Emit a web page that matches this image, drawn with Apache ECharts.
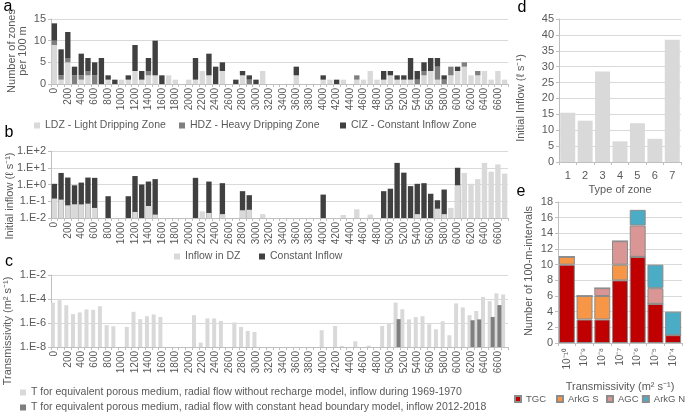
<!DOCTYPE html>
<html>
<head>
<meta charset="utf-8">
<script src="https://cdn.jsdelivr.net/npm/echarts@6/dist/echarts.min.js"></script>
<style>
  html, body { margin: 0; padding: 0; background: #fff; }
  #chart { width: 685px; height: 416px; }
</style>
</head>
<body>
<div id="chart"></div>
<script>
// position along the tunnel (m), one bar per 100 m
const positions = ['0','100','200','300','400','500','600','700','800','900',
  '1000','1100','1200','1300','1400','1500','1600','1700','1800','1900',
  '2000','2100','2200','2300','2400','2500','2600','2700','2800','2900',
  '3000','3100','3200','3300','3400','3500','3600','3700','3800','3900',
  '4000','4100','4200','4300','4400','4500','4600','4700','4800','4900',
  '5000','5100','5200','5300','5400','5500','5600','5700','5800','5900',
  '6000','6100','6200','6300','6400','6500','6600','6700'];

// a: number of zones per 100 m
const ldz = [9,1,5,0,1,2,0,0,1,0, 1,1,3,1,2,2,0,2,1,0, 1,1,3,2,0,3,0,0,2,0,
  0,3,0,0,0,0,2,0,0,0, 1,1,0,1,0,1,1,3,1,1, 2,1,1,1,0,2,3,1,0,2, 3,4,2,2,3,1,3,1];
const hdz = [1,1,1,2,1,1,2,0,0,0, 0,0,0,0,1,0,0,0,0,0, 0,0,0,0,0,0,0,0,0,1,
  0,0,0,0,0,0,0,0,0,0, 0,0,0,0,0,1,0,0,0,0, 0,0,0,0,1,1,0,3,1,2, 0,1,0,1,0,0,0,0];
const ciz = [4,6,6,2,5,3,3,6,1,1, 0,1,6,2,3,8,2,0,0,0, 0,5,0,5,4,2,0,1,1,1,
  1,0,0,0,0,0,2,0,0,0, 1,0,1,0,0,0,0,0,0,2, 1,1,1,5,2,2,3,2,1,0, 1,0,0,0,0,0,0,0];

// b: initial inflow (l/s), light = inflow in DZ, dark = top of constant inflow bar
const inflowDZ = [0.145,0.125,0.057,0.066,0.065,0.072,0.04,null,null,null,
  null,null,0.023,null,0.052,0.016,null,null,null,null,
  null,null,0.025,0.02,null,0.017,null,null,0.029,0.031,
  null,0.017,null,null,null,null,null,null,null,null,
  null,null,null,0.015,null,0.033,null,0.016,null,null,
  null,null,null,null,0.017,null,null,0.036,0.017,0.04,
  0.9,4.9,1.1,2.1,19.5,5.8,15.8,4.5];
const constInflow = [1.1,4.9,2.6,0.9,1.3,2.6,2.5,null,0.2,null,
  null,0.2,3.2,1.0,1.5,2.1,null,null,null,null,
  null,2.5,null,1.5,null,1.2,null,null,0.4,0.23,
  null,null,null,null,null,null,null,null,null,null,
  0.25,null,null,null,null,null,null,null,null,0.4,
  0.56,19.5,5.1,0.8,1.1,1.2,0.28,0.115,0.5,null,
  10,null,null,null,null,null,null,null];

// c: transmissivity (m2/s)
const tNoRecharge = [5e-5,8e-5,3e-5,5.5e-6,7.6e-6,1.35e-5,1.25e-5,2.5e-5,6.6e-7,5.4e-7,
  null,4.7e-7,8.5e-6,2.1e-6,3.7e-6,5.1e-6,3.2e-6,null,null,null,
  null,4.5e-6,2.3e-8,2.4e-6,2.4e-6,1.5e-6,null,1.1e-6,4.7e-7,2.2e-7,
  1.8e-7,null,null,null,null,null,null,null,null,null,
  2.5e-7,null,5.7e-7,1.2e-8,null,3e-8,null,1.3e-8,null,5.7e-7,
  1e-6,5e-5,1.4e-5,2e-6,3.1e-6,3.7e-6,8e-7,3e-7,1.4e-6,9.5e-8,
  4.3e-5,2e-5,4.5e-6,1e-5,1.5e-4,6.6e-5,3e-4,2.4e-4];
const tConstHead = [null,null,null,null,null,null,null,null,null,null,
  null,null,null,null,null,null,null,null,null,null,
  null,null,null,null,null,null,null,null,null,null,
  null,null,null,null,null,null,null,null,null,null,
  null,null,null,null,null,null,null,null,null,null,
  null,2.1e-6,null,null,null,null,null,null,null,null,
  null,null,1.7e-6,2e-6,null,3.2e-6,3.1e-5,null];

// d: initial inflow by type of zone
const zoneTypes = ['1','2','3','4','5','6','7'];
const inflowByType = [15.5, 13, 28.5, 6.5, 12.2, 7.3, 38.5];

// e: number of 100-m-intervals per transmissivity class
const tClasses = ['10⁻¹⁰','10⁻⁹','10⁻⁸','10⁻⁷','10⁻⁶','10⁻⁵','10⁻⁴'];
const tgc = [10, 3, 3, 8, 11, 5, 1];
const arkgS = [1, 3, 3, 2, 0, 0, 0];
const agc = [0, 0, 1, 3, 4, 2, 0];
const arkgN = [0, 0, 0, 0, 2, 3, 3];

const font = 'Liberation Sans, Arial, sans-serif';
const txt = '#595959';
const axisGray = '#bfbfbf';
const gridGray = '#d9d9d9';
const light = '#d9d9d9';
const mid = '#7f7f7f';
const dark = '#404040';

function sciLabel(v) {
  const e = Math.round(Math.log10(v));
  return '1.E' + (e < 0 ? '-' : '+') + Math.abs(e);
}

function catAxis(gridIndex, data, extra) {
  return Object.assign({
    type: 'category', gridIndex, data,
    axisLine: { lineStyle: { color: axisGray } },
    axisTick: { show: true, interval: 0, length: 3, lineStyle: { color: axisGray } },
    axisLabel: { interval: 1, rotate: 90, fontSize: 10, color: txt, fontFamily: font, margin: 4 }
  }, extra || {});
}

function valAxis(gridIndex, extra) {
  return Object.assign({
    gridIndex,
    axisLine: { show: true, lineStyle: { color: axisGray } },
    axisTick: { show: true, length: 3, lineStyle: { color: axisGray } },
    axisLabel: { fontSize: 11, color: txt, fontFamily: font, margin: 5 },
    splitLine: { lineStyle: { color: gridGray } }
  }, extra);
}

function legendItem(name, pos, top, size) {
  return Object.assign({
    data: [name], top, padding: 0, itemWidth: 6, itemHeight: 6, icon: 'rect',
    selectedMode: false, textStyle: { fontSize: size || 10.5, color: txt, fontFamily: font }
  }, pos);
}

function letter(s, x, y) {
  return { type: 'text', x, y, style: { text: s, fontSize: 16, fill: '#000', fontFamily: font, align: 'center', verticalAlign: 'middle' } };
}

function vTitle(s, x, y) {
  return { type: 'text', x, y, rotation: Math.PI / 2,
    style: { text: s, fontSize: 11, fill: txt, fontFamily: font, align: 'center', verticalAlign: 'middle', lineHeight: 11 } };
}

const chart = echarts.init(document.getElementById('chart'));

chart.setOption({
  animation: false,
  textStyle: { fontFamily: font },
  grid: [
    { left: 51, top: 19, width: 457, height: 65, outerBoundsMode: 'none' },
    { left: 51, top: 151, width: 457, height: 67, outerBoundsMode: 'none' },
    { left: 51, top: 275, width: 457, height: 72, outerBoundsMode: 'none' },
    { left: 559, top: 19, width: 122, height: 143, outerBoundsMode: 'none' },
    { left: 558, top: 202, width: 124, height: 141, outerBoundsMode: 'none' }
  ],
  xAxis: [
    catAxis(0, positions),
    catAxis(1, positions),
    catAxis(2, positions),
    catAxis(3, zoneTypes, {
      axisLabel: { interval: 0, rotate: 0, fontSize: 11, color: txt, fontFamily: font, margin: 8 },
      name: 'Type of zone', nameLocation: 'middle', nameGap: 22,
      nameTextStyle: { fontSize: 11, color: txt, fontFamily: font }
    }),
    catAxis(4, tClasses, {
      axisLabel: { interval: 0, rotate: 90, fontSize: 10, color: txt, fontFamily: font, margin: 5 },
      name: 'Transmissivity (m² s⁻¹)', nameLocation: 'middle', nameGap: 38,
      nameTextStyle: { fontSize: 11, color: txt, fontFamily: font }
    })
  ],
  yAxis: [
    valAxis(0, { type: 'value', min: 0, max: 15, interval: 5 }),
    valAxis(1, { type: 'log', logBase: 10, min: 0.01, max: 100, startValue: 0.01,
      axisLabel: { fontSize: 11, color: txt, fontFamily: font, margin: 5, formatter: sciLabel } }),
    valAxis(2, { type: 'log', logBase: 100, min: 1e-8, max: 1e-2, startValue: 1e-8,
      axisLabel: { fontSize: 11, color: txt, fontFamily: font, margin: 5, formatter: sciLabel } }),
    valAxis(3, { type: 'value', min: 0, max: 45, interval: 5 }),
    valAxis(4, { type: 'value', min: 0, max: 18, interval: 2 })
  ],
  legend: [
    legendItem('LDZ - Light Dripping Zone', { left: 34 }, 120),
    legendItem('HDZ - Heavy Dripping Zone', { left: 179 }, 120),
    legendItem('CIZ - Constant Inflow Zone', { left: 340 }, 120),
    legendItem('Inflow in DZ', { left: 174 }, 251),
    legendItem('Constant Inflow', { left: 259 }, 251),
    legendItem('T for equivalent porous medium, radial flow without recharge model, inflow during 1969-1970', { left: 20 }, 387),
    legendItem('T for equivalent porous medium, radial flow with constant head boundary model, inflow 2012-2018', { left: 20 }, 402),
    legendItem('TGC', { left: 514 }, 394, 9.5),
    legendItem('ArkG S', { left: 556 }, 394, 9.5),
    legendItem('AGC', { left: 606 }, 394, 9.5),
    legendItem('ArkG N', { right: 0 }, 394, 9.5)
  ],
  series: [
    // a
    { name: 'LDZ - Light Dripping Zone', type: 'bar', xAxisIndex: 0, yAxisIndex: 0, stack: 'zones',
      data: ldz, itemStyle: { color: light }, barCategoryGap: '20%' },
    { name: 'HDZ - Heavy Dripping Zone', type: 'bar', xAxisIndex: 0, yAxisIndex: 0, stack: 'zones',
      data: hdz, itemStyle: { color: mid }, barCategoryGap: '20%' },
    { name: 'CIZ - Constant Inflow Zone', type: 'bar', xAxisIndex: 0, yAxisIndex: 0, stack: 'zones',
      data: ciz, itemStyle: { color: dark }, barCategoryGap: '20%' },
    // b
    { name: 'Constant Inflow', type: 'bar', xAxisIndex: 1, yAxisIndex: 1,
      data: constInflow, itemStyle: { color: dark }, barCategoryGap: '20%', barGap: '-100%' },
    { name: 'Inflow in DZ', type: 'bar', xAxisIndex: 1, yAxisIndex: 1,
      data: inflowDZ, itemStyle: { color: light }, barCategoryGap: '20%', barGap: '-100%' },
    // c
    { name: 'T for equivalent porous medium, radial flow without recharge model, inflow during 1969-1970',
      type: 'bar', xAxisIndex: 2, yAxisIndex: 2, data: tNoRecharge, itemStyle: { color: light },
      barWidth: 4, barGap: '-25%' },
    { name: 'T for equivalent porous medium, radial flow with constant head boundary model, inflow 2012-2018',
      type: 'bar', xAxisIndex: 2, yAxisIndex: 2, data: tConstHead, itemStyle: { color: mid },
      barWidth: 4, barGap: '-25%' },
    // d
    { name: 'Initial inflow by type', type: 'bar', xAxisIndex: 3, yAxisIndex: 3,
      data: inflowByType, itemStyle: { color: light }, barCategoryGap: '14%' },
    // e
    { name: 'TGC', type: 'bar', xAxisIndex: 4, yAxisIndex: 4, stack: 'geo', data: tgc,
      itemStyle: { color: '#c00000', borderColor: '#8c8c8c', borderWidth: 1 }, barCategoryGap: '10%' },
    { name: 'ArkG S', type: 'bar', xAxisIndex: 4, yAxisIndex: 4, stack: 'geo', data: arkgS,
      itemStyle: { color: '#f79646', borderColor: '#8c8c8c', borderWidth: 1 }, barCategoryGap: '10%' },
    { name: 'AGC', type: 'bar', xAxisIndex: 4, yAxisIndex: 4, stack: 'geo', data: agc,
      itemStyle: { color: '#d99694', borderColor: '#8c8c8c', borderWidth: 1 }, barCategoryGap: '10%' },
    { name: 'ArkG N', type: 'bar', xAxisIndex: 4, yAxisIndex: 4, stack: 'geo', data: arkgN,
      itemStyle: { color: '#4bacc6', borderColor: '#8c8c8c', borderWidth: 1 }, barCategoryGap: '10%' }
  ],
  graphic: [
    letter('a', 8, 7),
    letter('b', 9, 133),
    letter('c', 9, 262),
    letter('d', 522, 8),
    letter('e', 521, 192),
    vTitle('Number of zones\nper 100 m', 17, 51),
    vTitle('Initial inflow (ℓ s⁻¹)', 10, 196),
    vTitle('Transmissivity (m² s⁻¹)', 8, 331),
    vTitle('Initial Inflow (ℓ s⁻¹)', 521, 98),
    vTitle('Number of 100-m-intervals', 529, 271)
  ]
});
</script>
</body>
</html>
